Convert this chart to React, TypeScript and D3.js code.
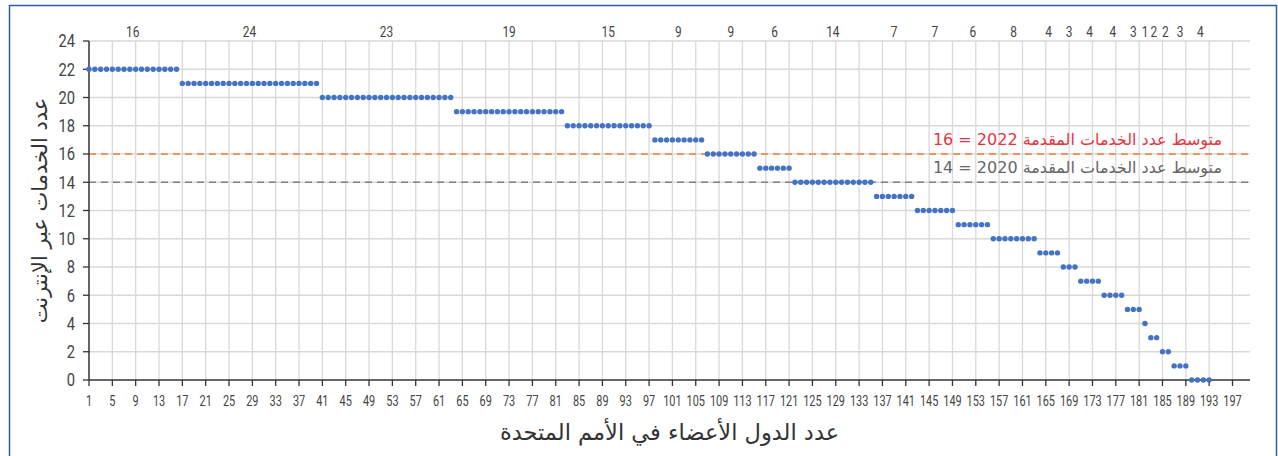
import React from 'react';
import * as d3 from 'd3';

// number of online services offered (one group per level)
const serviceLevels = [22, 21, 20, 19, 18, 17, 16, 15, 14, 13, 12, 11, 10, 9, 8, 7, 6, 5, 4, 3, 2, 1, 0];
// how many member states sit at each level
const stateCounts = [16, 24, 23, 19, 15, 9, 9, 6, 14, 7, 7, 6, 8, 4, 3, 4, 4, 3, 1, 2, 2, 3, 4];

const averages = [
  { year: 2022, value: 16, label: 'متوسط عدد الخدمات المقدمة 2022  = 16', line: '#ED7D31', text: '#E8343F' },
  { year: 2020, value: 14, label: 'متوسط عدد الخدمات المقدمة 2020 = 14', line: '#808080', text: '#666666' },
];

const yTitle = 'عدد الخدمات عبر الإنترنت';
const xTitle = 'عدد الدول الأعضاء في الأمم المتحدة';

const W = 1278;
const H = 456;
const margin = { top: 41, right: 28, bottom: 76, left: 89 };

const NUM_FONT = "'Roboto', 'Liberation Sans', sans-serif";
const AR_FONT = "'DejaVu Sans', 'Noto Sans', sans-serif";

// narrow numbers, the original uses a condensed face
function Num({ x, y, size, anchor, children, sx = 0.8 }: any) {
  return (
    <text
      transform={`translate(${x},${y}) scale(${sx},1)`}
      textAnchor={anchor}
      dy="0.35em"
      fontFamily={NUM_FONT}
      fontSize={size}
      fill="#444"
    >
      {children}
    </text>
  );
}

export default function App() {
  const x = d3.scaleLinear().domain([1, 200]).range([margin.left, W - margin.right]);
  const y = d3.scaleLinear().domain([0, 24]).range([H - margin.bottom, margin.top]);

  // expand groups into individual member states (1..193)
  const groups: { value: number; count: number; start: number; end: number }[] = [];
  let idx = 1;
  serviceLevels.forEach((v, i) => {
    const c = stateCounts[i];
    groups.push({ value: v, count: c, start: idx, end: idx + c - 1 });
    idx += c;
  });
  const points = groups.flatMap(g => d3.range(g.start, g.end + 1).map(n => ({ n, v: g.value })));

  const xTicks = d3.range(1, 198, 4);
  const yTicks = d3.range(0, 25, 2);
  const x0 = x.range()[0];
  const x1 = x.range()[1];
  const yBase = y(0);

  return (
    <div style={{ position: 'absolute', left: 0, top: 0 }}>
      <svg width={W} height={H} style={{ display: 'block', background: '#fff' }}>
        <rect x={9.5} y={5.5} width={1267} height={460} fill="none" stroke="#2F5F98" strokeWidth={1.5} />

        {/* grid */}
        <g stroke="#D9D9D9" strokeWidth={1.3}>
          {yTicks.filter(t => t > 0).map(t => (
            <line key={'h' + t} x1={x0} x2={x1} y1={y(t)} y2={y(t)} />
          ))}
          {xTicks.filter(t => t > 1).map(t => (
            <line key={'v' + t} x1={x(t)} x2={x(t)} y1={y(24)} y2={yBase} />
          ))}
        </g>

        {/* average lines */}
        {averages.map(a => (
          <g key={a.year}>
            <line x1={x0} x2={x1} y1={y(a.value)} y2={y(a.value)} stroke={a.line} strokeWidth={1.5} strokeDasharray="7,5" />
            <text
              x={1222}
              y={y(a.value) - 9}
              direction="rtl"
              textAnchor="start"
              fontFamily={AR_FONT}
              fontSize={16}
              fill={a.text}
            >
              {a.label}
            </text>
          </g>
        ))}

        {/* axes */}
        <line x1={x0} x2={x0} y1={y(24)} y2={yBase} stroke="#333" strokeWidth={1.5} />
        <line x1={x0} x2={x1} y1={yBase} y2={yBase} stroke="#333" strokeWidth={1.5} />
        {yTicks.map(t => (
          <g key={'yt' + t}>
            <line x1={x0 - 6} x2={x0} y1={y(t)} y2={y(t)} stroke="#333" strokeWidth={1.3} />
            <Num x={x0 - 14} y={y(t)} size={18} anchor="end" sx={0.82}>{t}</Num>
          </g>
        ))}
        {xTicks.map(t => (
          <g key={'xt' + t}>
            <line x1={x(t)} x2={x(t)} y1={yBase} y2={yBase + 6} stroke="#333" strokeWidth={1.3} />
            <Num x={x(t)} y={yBase + 21} size={14} anchor="middle" sx={0.78}>{t}</Num>
          </g>
        ))}

        {/* points */}
        <g fill="#4472C4">
          {points.map(p => (
            <circle key={p.n} cx={x(p.n)} cy={y(p.v)} r={2.7} />
          ))}
        </g>

        {/* group counts along top */}
        {groups.map(g => (
          <Num key={'c' + g.value} x={x((g.start + g.end) / 2)} y={32} size={14} anchor="middle" sx={0.85}>
            {g.count}
          </Num>
        ))}

        {/* titles */}
        <text
          transform={`translate(47,${(y(24) + yBase) / 2}) rotate(-90)`}
          textAnchor="middle"
          direction="rtl"
          fontFamily={AR_FONT}
          fontSize={21}
          fill="#333"
        >
          {yTitle}
        </text>
        <text
          x={(x0 + x1) / 2}
          y={440}
          textAnchor="middle"
          direction="rtl"
          fontFamily={AR_FONT}
          fontSize={22.5}
          fill="#333"
        >
          {xTitle}
        </text>
      </svg>
    </div>
  );
}
